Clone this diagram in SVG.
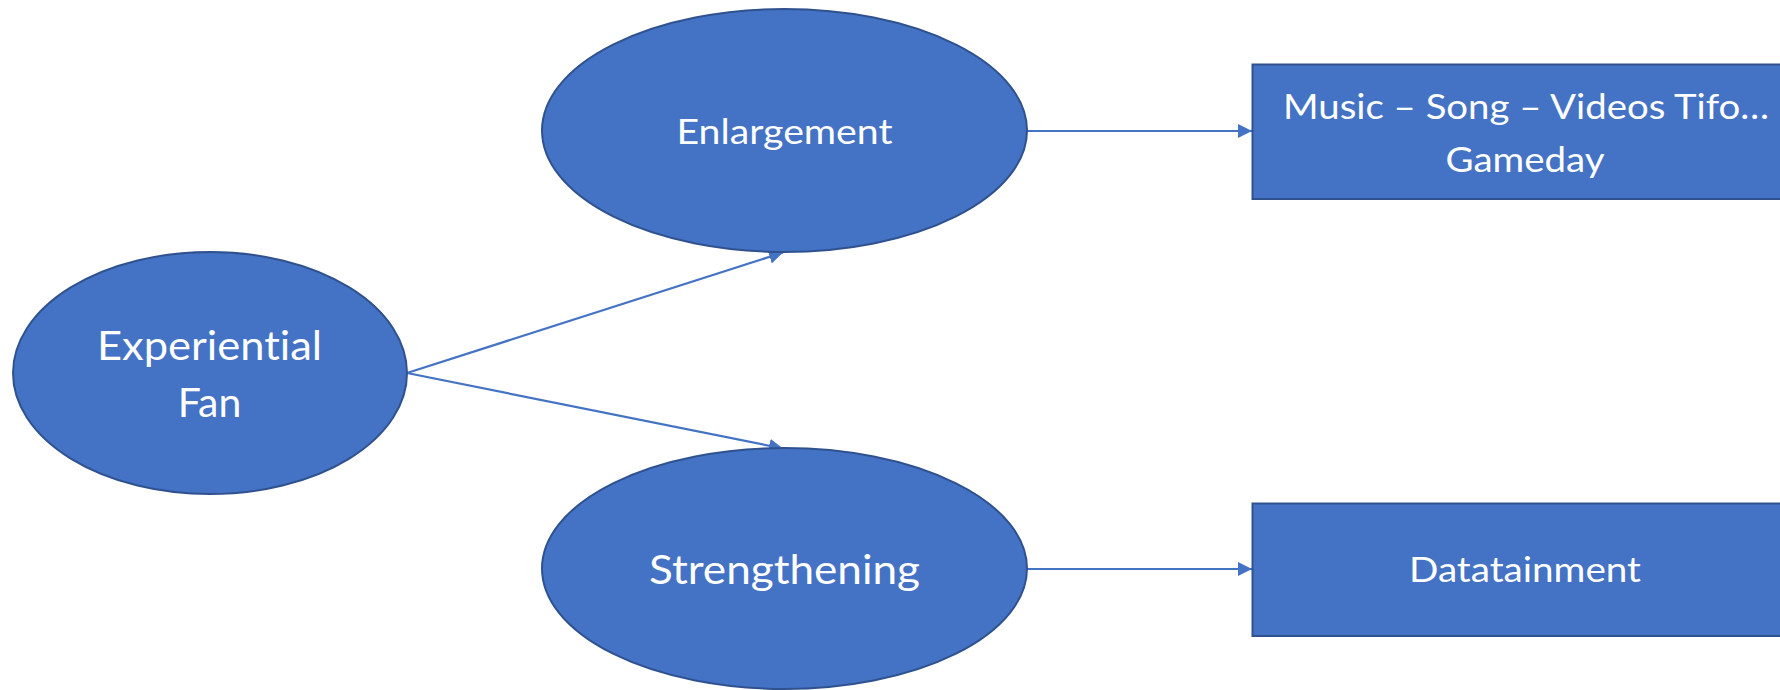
<svg xmlns="http://www.w3.org/2000/svg" width="1780" height="690" viewBox="0 0 1780 690">
  <style>
    .shape { fill: #4472C4; stroke: #2F528F; stroke-width: 2; }
    .link { stroke: #4472C4; stroke-width: 2.2; fill: none; marker-end: url(#arrow); }
    .label { fill: #FFFFFF; font-family: "Lato", "Open Sans", sans-serif; text-anchor: middle; font-variant-ligatures: none; font-feature-settings: "liga" 0, "clig" 0; }
    .big { font-size: 41px; }
    .small { font-size: 35px; }
  </style>
  <defs>
    <marker id="arrow" markerUnits="userSpaceOnUse" markerWidth="15" markerHeight="15" refX="14" refY="7" orient="auto">
      <path d="M0,0 L14,7 L0,14 z" fill="#4472C4"/>
    </marker>
  </defs>
  <rect width="1780" height="690" fill="#FFFFFF"/>

  <!-- connectors -->
  <g id="connectors">
    <line class="link" x1="407" y1="373" x2="783" y2="252.5"/>
    <line class="link" x1="407" y1="373" x2="783" y2="448.5"/>
    <line class="link" x1="1027" y1="131" x2="1252" y2="131"/>
    <line class="link" x1="1027" y1="569" x2="1252" y2="569"/>
  </g>

  <!-- root node -->
  <g id="experiential-fan">
    <ellipse class="shape" cx="210" cy="373" rx="197" ry="121"/>
    <text class="label big" x="209.5" y="359.5" textLength="225" lengthAdjust="spacingAndGlyphs">Experiential</text>
    <text class="label big" x="209.5" y="416.7">Fan</text>
  </g>

  <g id="enlargement">
    <ellipse class="shape" cx="784.5" cy="130.5" rx="242.5" ry="121.5"/>
    <text class="label small" x="784.5" y="144.3" textLength="216" lengthAdjust="spacingAndGlyphs">Enlargement</text>
  </g>

  <g id="strengthening">
    <ellipse class="shape" cx="784.5" cy="568.5" rx="242.5" ry="120.5"/>
    <text class="label big" x="784.5" y="584.3" textLength="271" lengthAdjust="spacingAndGlyphs">Strengthening</text>
  </g>

  <g id="gameday">
    <rect class="shape" x="1252.5" y="64.5" width="560" height="134.5"/>
    <text class="label small" x="1526" y="119" textLength="486" lengthAdjust="spacingAndGlyphs">Music – Song – Videos Tifo…</text>
    <text class="label small" x="1525" y="171.7" textLength="159" lengthAdjust="spacingAndGlyphs">Gameday</text>
  </g>

  <g id="datatainment">
    <rect class="shape" x="1252.5" y="503.5" width="560" height="132.5"/>
    <text class="label small" x="1525" y="582.3" textLength="232" lengthAdjust="spacingAndGlyphs">Datatainment</text>
  </g>
</svg>
